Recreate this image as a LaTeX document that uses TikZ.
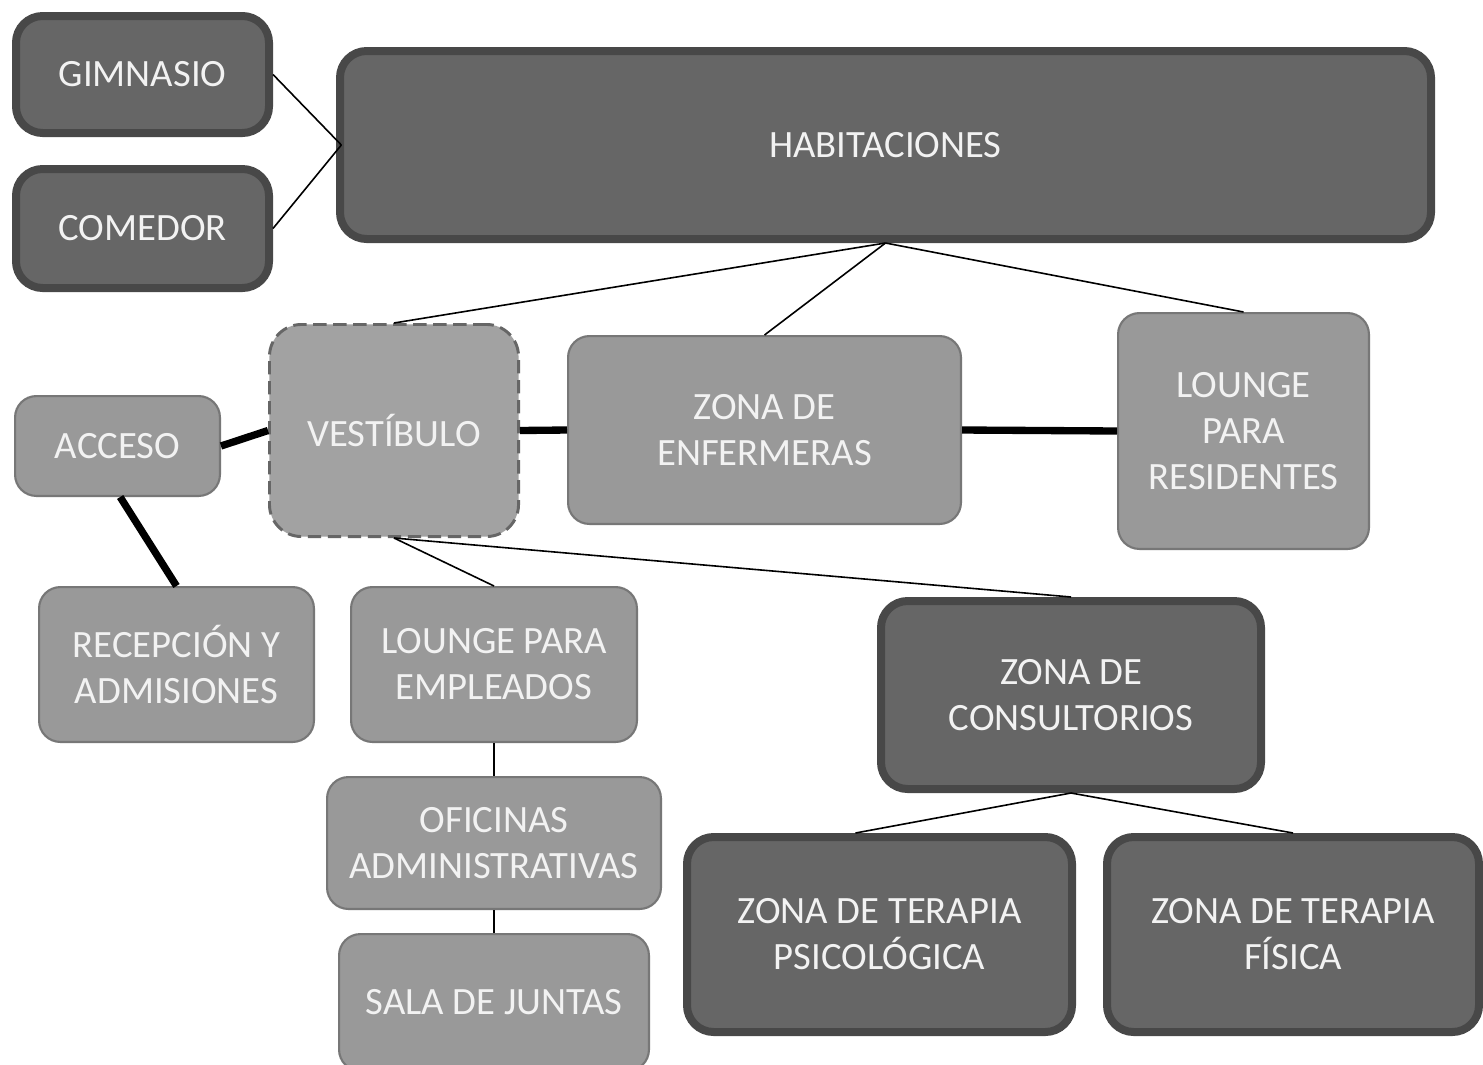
\documentclass[tikz,border=0pt]{standalone}
\usepackage{fontspec}
\setmainfont{Carlito}
\definecolor{darkfill}{HTML}{666666}
\definecolor{darkline}{HTML}{484848}
\definecolor{lightfill}{HTML}{999999}
\definecolor{lightline}{HTML}{777777}
\definecolor{vestfill}{HTML}{A2A2A2}
\definecolor{vestline}{HTML}{666666}
\definecolor{txt}{HTML}{F2F2F2}
\tikzset{
  boxbase/.style={rectangle, align=center, text=txt, inner sep=0pt,
    font=\fontsize{29}{34.5}\selectfont},
  darkbox/.style={boxbase, fill=darkfill, draw=darkline, line width=6pt, rounded corners=20pt},
  lightbox/.style={boxbase, fill=lightfill, draw=lightline, line width=1.6pt, rounded corners=16pt},
  vestbox/.style={boxbase, fill=vestfill, draw=vestline, line width=2.2pt, rounded corners=24pt,
    dash pattern=on 10pt off 5pt},
  thinlink/.style={draw=black, line width=1.2pt},
  thicklink/.style={draw=black, line width=5.5pt}
}
% name, x1, y1, x2, y2, style, text, line width  (pixel coordinates, outer edges)
\newcommand{\pbox}[8]{%
  \node[#6, minimum width={(#4-#2)*0.75pt-#8}, minimum height={(#5-#3)*0.75pt-#8}]
    (#1) at ({(#2+#4)/2},{(#3+#5)/2}) {#7};}
\begin{document}
\begin{tikzpicture}[x=0.75pt,y=-0.75pt]
\useasboundingbox (0,0) rectangle (1483,1064);
\clip (0,0) rectangle (1483,1064);
\fill[white] (0,0) rectangle (1483,1064);

\pbox{gim}{12}{12}{273}{137}{darkbox}{GIMNASIO}{6pt}
\pbox{com}{12}{165}{273}{292}{darkbox}{COMEDOR}{6pt}
\pbox{hab}{336}{47}{1435}{243}{darkbox}{HABITACIONES}{6pt}
\pbox{acc}{14}{395}{221}{497}{lightbox}{ACCESO}{1.6pt}
\pbox{vest}{268}{323}{520}{538}{vestbox}{VESTÍBULO}{2.2pt}
\pbox{enf}{567}{335}{962}{525}{lightbox}{ZONA DE\\ENFERMERAS}{1.6pt}
\pbox{lres}{1117}{312}{1370}{550}{lightbox}{LOUNGE\\PARA\\RESIDENTES}{1.6pt}
\pbox{rec}{38}{586}{315}{743}{lightbox}{RECEPCIÓN Y\\ADMISIONES}{1.6pt}
\pbox{lemp}{350}{586}{638}{743}{lightbox}{LOUNGE PARA\\EMPLEADOS}{1.6pt}
\pbox{ofi}{326}{776}{662}{910}{lightbox}{OFICINAS\\ADMINISTRATIVAS}{1.6pt}
\pbox{sala}{338}{933}{650}{1072}{lightbox}{SALA DE JUNTAS}{1.6pt}
\pbox{cons}{877}{597}{1265}{793}{darkbox}{ZONA DE\\CONSULTORIOS}{6pt}
\pbox{psi}{683}{833}{1076}{1036}{darkbox}{ZONA DE TERAPIA\\PSICOLÓGICA}{6pt}
\pbox{fis}{1103}{833}{1483}{1036}{darkbox}{ZONA DE TERAPIA\\FÍSICA}{6pt}

% thin connectors
\draw[thinlink] (gim.east) -- ([xshift=4pt]hab.west);
\draw[thinlink] (com.east) -- ([xshift=4pt]hab.west);
\draw[thinlink] (hab.south) -- (vest.north);
\draw[thinlink] (hab.south) -- (enf.north);
\draw[thinlink] (hab.south) -- (lres.north);
\draw[thinlink] (vest.south) -- (lemp.north);
\draw[thinlink] (vest.south) -- (cons.north);
\draw[thinlink] (lemp.south) -- (ofi.north);
\draw[thinlink] (ofi.south) -- (sala.north);
\draw[thinlink] (cons.south) -- ([xshift=-18pt]psi.north);
\draw[thinlink] (cons.south) -- (fis.north);

% thick connectors
\draw[thicklink] (acc.east) -- (vest.west);
\draw[thicklink] (vest.east) -- (enf.west);
\draw[thicklink] (enf.east) -- (lres.west);
\draw[thicklink] ([xshift=2pt]acc.south) -- (rec.north);
\end{tikzpicture}
\end{document}
